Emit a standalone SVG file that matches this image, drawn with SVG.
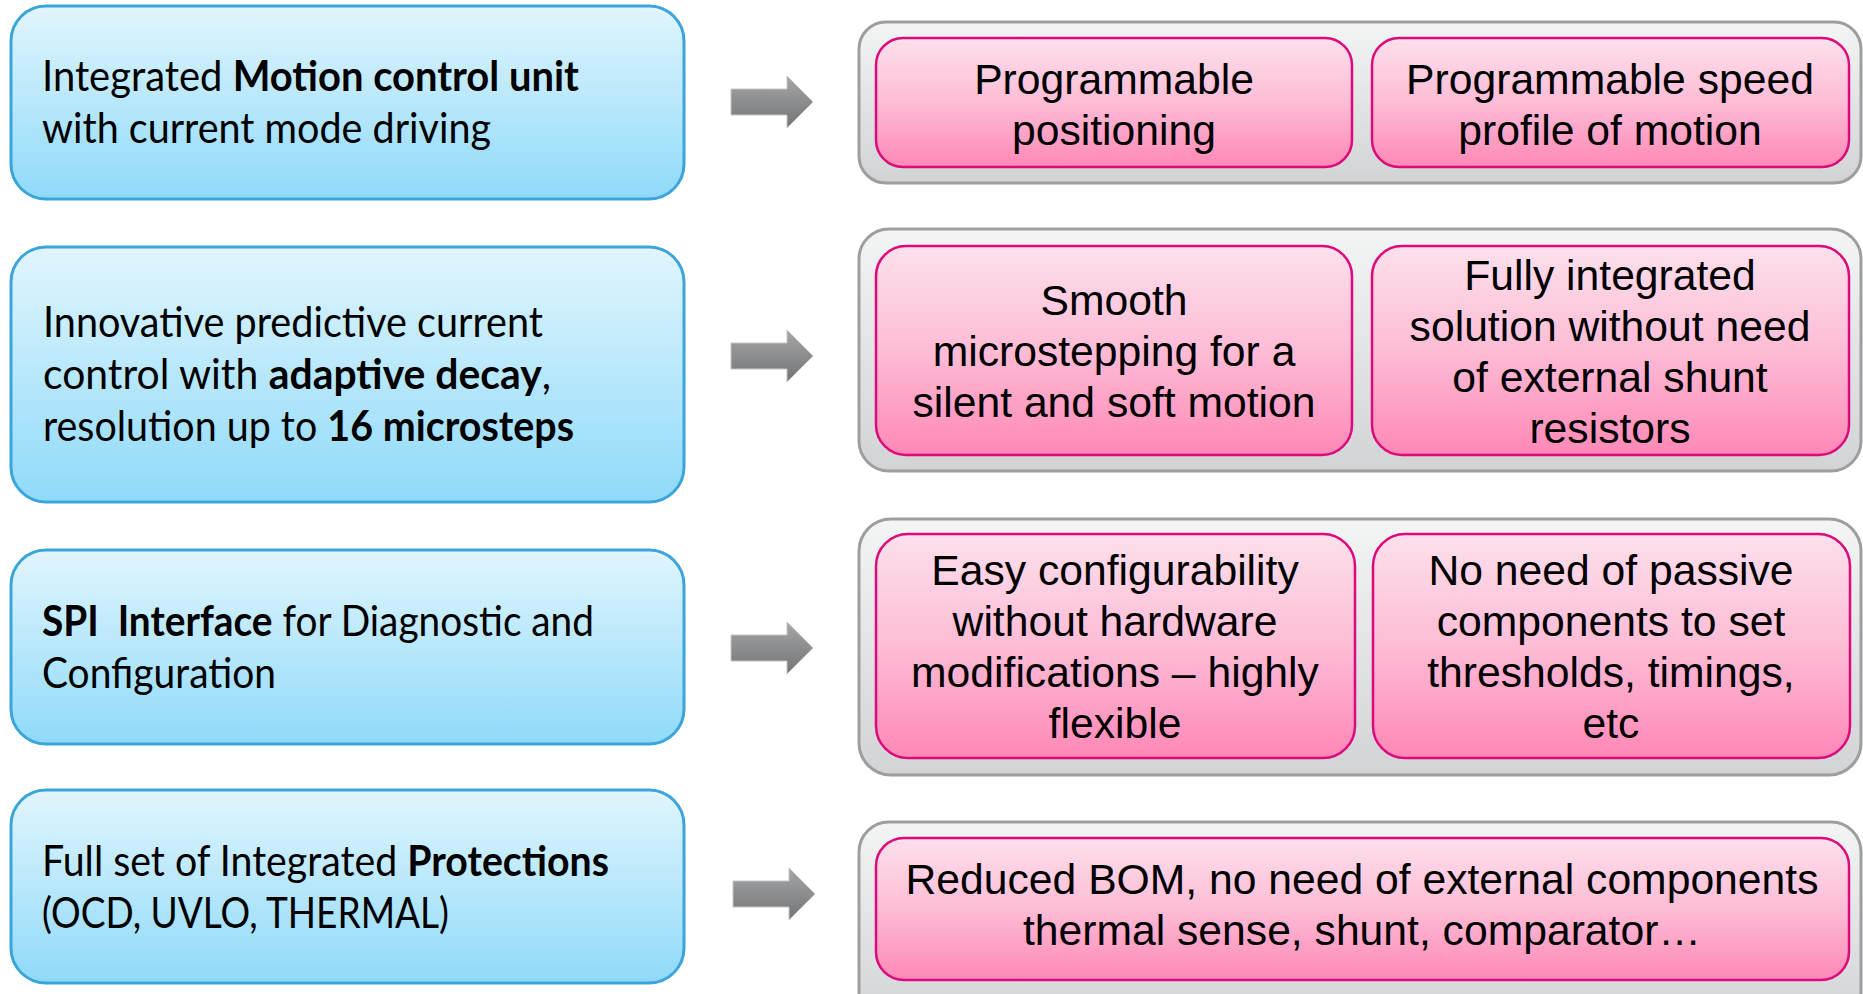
<svg xmlns="http://www.w3.org/2000/svg" width="1863" height="994" viewBox="0 0 1863 994">
  <defs>
    <linearGradient id="gBlue" x1="0" y1="0" x2="0" y2="1">
      <stop offset="0" stop-color="#e1f5fd"/>
      <stop offset="1" stop-color="#8fdaf9"/>
    </linearGradient>
    <linearGradient id="gPink" x1="0" y1="0" x2="0" y2="1">
      <stop offset="0" stop-color="#fde0ec"/>
      <stop offset="0.5" stop-color="#fdbcd6"/>
      <stop offset="1" stop-color="#ff88b6"/>
    </linearGradient>
    <linearGradient id="gGrey" x1="0" y1="0" x2="0" y2="1">
      <stop offset="0" stop-color="#f3f4f4"/>
      <stop offset="1" stop-color="#d2d3d5"/>
    </linearGradient>
    <linearGradient id="gArrow" x1="0" y1="0" x2="0" y2="1">
      <stop offset="0" stop-color="#a4a6a7"/>
      <stop offset="1" stop-color="#727476"/>
    </linearGradient>
    <path id="arrowShape" d="M0,-13 H56 V-26 L82,0 L56,26 V13 H0 Z"/>
  </defs>
  <style>
    .feat { fill: url(#gBlue); stroke: #3ba5db; stroke-width: 3; }
    .panel { fill: url(#gGrey); stroke: #9d9e9f; stroke-width: 3; }
    .item { fill: url(#gPink); stroke: #dc0a7c; stroke-width: 2.5; }
    .arrow { fill: url(#gArrow); stroke: #c4c5c6; stroke-width: 1; }
    .lt { font-family: Lato, "Open Sans", sans-serif; font-size: 42.67px; fill: #000; }
    .lt tspan.b { font-weight: bold; }
    .rt { font-family: "Liberation Sans", Arial, sans-serif; font-size: 42.67px; fill: #000; text-anchor: middle; }
  </style>

  <rect width="1863" height="994" fill="#ffffff"/>

  <!-- left column: feature boxes -->
  <g id="feature-motion">
    <rect class="feat" x="11" y="6" width="673" height="193" rx="35"/>
    <text class="lt" x="42" y="91" textLength="537" lengthAdjust="spacingAndGlyphs">Integrated <tspan class="b">Motion control unit</tspan></text>
    <text class="lt" x="42" y="143" textLength="449" lengthAdjust="spacingAndGlyphs">with current mode driving</text>
  </g>

  <g id="feature-current-control">
    <rect class="feat" x="11" y="247" width="673" height="255" rx="35"/>
    <text class="lt" x="43" y="337" textLength="500" lengthAdjust="spacingAndGlyphs">Innovative predictive current</text>
    <text class="lt" x="43" y="389" textLength="508" lengthAdjust="spacingAndGlyphs">control with <tspan class="b">adaptive decay</tspan>,</text>
    <text class="lt" x="43" y="441" textLength="531" lengthAdjust="spacingAndGlyphs">resolution up to <tspan class="b">16 microsteps</tspan></text>
  </g>

  <g id="feature-spi">
    <rect class="feat" x="11" y="550" width="673" height="194" rx="35"/>
    <text class="lt" x="42" y="636" textLength="552" lengthAdjust="spacingAndGlyphs" xml:space="preserve"><tspan class="b">SPI  Interface</tspan> for Diagnostic and</text>
    <text class="lt" x="42" y="688" textLength="234" lengthAdjust="spacingAndGlyphs">Configuration</text>
  </g>

  <g id="feature-protections">
    <rect class="feat" x="11" y="790" width="673" height="193" rx="35"/>
    <text class="lt" x="42" y="876" textLength="567" lengthAdjust="spacingAndGlyphs">Full set of Integrated <tspan class="b">Protections</tspan></text>
    <text class="lt" x="42" y="928" textLength="407" lengthAdjust="spacingAndGlyphs">(OCD, UVLO, THERMAL)</text>
  </g>

  <!-- connectors: block arrows from features to benefits -->
  <g id="connectors">
    <use href="#arrowShape" class="arrow" x="731" y="102"/>
    <use href="#arrowShape" class="arrow" x="731" y="356"/>
    <use href="#arrowShape" class="arrow" x="731" y="648"/>
    <use href="#arrowShape" class="arrow" x="733" y="894"/>
  </g>

  <!-- right column: benefit panels -->
  <g id="benefits-motion">
    <rect class="panel" x="859" y="22" width="1002" height="161" rx="27"/>
    <g id="benefit-positioning">
      <rect class="item" x="876" y="38" width="476" height="129" rx="27"/>
      <text class="rt" x="1114" y="94">Programmable</text>
      <text class="rt" x="1114" y="145">positioning</text>
    </g>
    <g id="benefit-speed-profile">
      <rect class="item" x="1372" y="38" width="477" height="129" rx="27"/>
      <text class="rt" x="1610" y="94">Programmable speed</text>
      <text class="rt" x="1610" y="145">profile of motion</text>
    </g>
  </g>

  <g id="benefits-current-control">
    <rect class="panel" x="859" y="229" width="1002" height="242" rx="30"/>
    <g id="benefit-microstepping">
      <rect class="item" x="876" y="246" width="476" height="209" rx="30"/>
      <text class="rt" x="1114" y="315">Smooth</text>
      <text class="rt" x="1114" y="366">microstepping for a</text>
      <text class="rt" x="1114" y="417">silent and soft motion</text>
    </g>
    <g id="benefit-no-shunt">
      <rect class="item" x="1372" y="246" width="477" height="209" rx="30"/>
      <text class="rt" x="1610" y="290">Fully integrated</text>
      <text class="rt" x="1610" y="341">solution without need</text>
      <text class="rt" x="1610" y="392">of external shunt</text>
      <text class="rt" x="1610" y="443">resistors</text>
    </g>
  </g>

  <g id="benefits-spi">
    <rect class="panel" x="859" y="519" width="1002" height="256" rx="32"/>
    <g id="benefit-configurability">
      <rect class="item" x="876" y="534" width="479" height="224" rx="32"/>
      <text class="rt" x="1115" y="585">Easy configurability</text>
      <text class="rt" x="1115" y="636">without hardware</text>
      <text class="rt" x="1115" y="687">modifications – highly</text>
      <text class="rt" x="1115" y="738">flexible</text>
    </g>
    <g id="benefit-no-passives">
      <rect class="item" x="1373" y="534" width="477" height="224" rx="32"/>
      <text class="rt" x="1611" y="585">No need of passive</text>
      <text class="rt" x="1611" y="636">components to set</text>
      <text class="rt" x="1611" y="687">thresholds, timings,</text>
      <text class="rt" x="1611" y="738">etc</text>
    </g>
  </g>

  <g id="benefits-protections">
    <rect class="panel" x="859" y="822" width="1002" height="200" rx="30"/>
    <g id="benefit-reduced-bom">
      <rect class="item" x="876" y="838" width="973" height="142" rx="28"/>
      <text class="rt" x="1362" y="894">Reduced BOM, no need of external components</text>
      <text class="rt" x="1362" y="945">thermal sense, shunt, comparator…</text>
    </g>
  </g>
</svg>
